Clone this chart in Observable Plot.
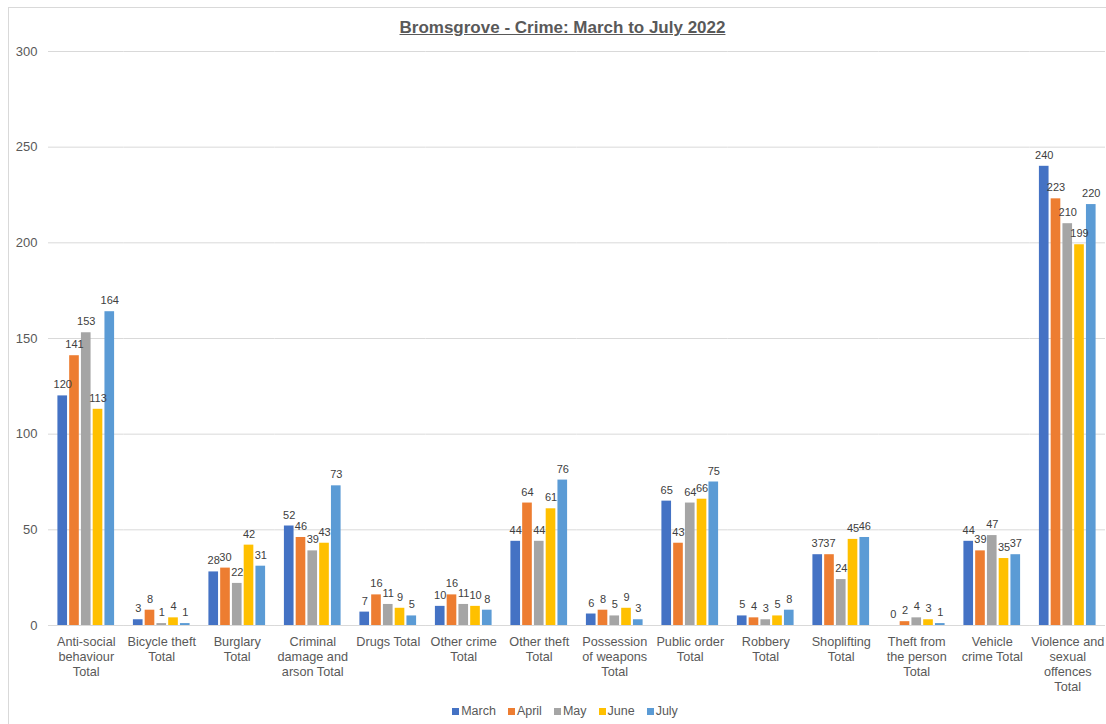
<!DOCTYPE html>
<html>
<head>
<meta charset="utf-8">
<script src="https://cdn.jsdelivr.net/npm/d3@7"></script>
<script src="https://cdn.jsdelivr.net/npm/@observablehq/plot@0.6"></script>
<style>
  html, body { margin: 0; padding: 0; background: #fff; }
  body { width: 1106px; height: 724px; position: relative; overflow: hidden;
         font-family: "Liberation Sans", Arial, sans-serif; }
  #frame { position: absolute; left: 8px; top: 7px; width: 1110px; height: 730px;
           border: 1px solid #d9d9d9; box-sizing: border-box; }
  #title { position: absolute; left: 0; top: 18px; width: 1125px; text-align: center;
           font-size: 17px; font-weight: bold; color: #595959; text-decoration: underline; }
  #chart { position: absolute; left: 0; top: 0; }
  #legend { position: absolute; left: 0; top: 704px; width: 1130px; text-align: center;
            font-size: 12.5px; color: #595959; white-space: nowrap; }
  #legend span.item { display: inline-block; margin: 0 6px; }
  #legend span.sw { display: inline-block; width: 7px; height: 7px; margin-right: 2px; }
</style>
</head>
<body>
<div id="frame"></div>
<div id="title">Bromsgrove - Crime: March to July 2022</div>
<div id="chart"></div>
<div id="legend"></div>
<script>
// Offence categories and their wrapped axis labels
const categories = [
  "Anti-social behaviour Total", "Bicycle theft Total", "Burglary Total",
  "Criminal damage and arson Total", "Drugs Total", "Other crime Total",
  "Other theft Total", "Possession of weapons Total", "Public order Total",
  "Robbery Total", "Shoplifting Total", "Theft from the person Total",
  "Vehicle crime Total", "Violence and sexual offences Total"
];
const categoryLabels = [
  "Anti-social\nbehaviour\nTotal", "Bicycle theft\nTotal", "Burglary\nTotal",
  "Criminal\ndamage and\narson Total", "Drugs Total", "Other crime\nTotal",
  "Other theft\nTotal", "Possession\nof weapons\nTotal", "Public order\nTotal",
  "Robbery\nTotal", "Shoplifting\nTotal", "Theft from\nthe person\nTotal",
  "Vehicle\ncrime Total", "Violence and\nsexual\noffences\nTotal"
];

const months = ["March", "April", "May", "June", "July"];
const monthColors = ["#4472C4", "#ED7D31", "#A5A5A5", "#FFC000", "#5B9BD5"];

// Monthly counts per category
const march = [120, 3, 28, 52, 7, 10, 44, 6, 65, 5, 37, 0, 44, 240];
const april = [141, 8, 30, 46, 16, 16, 64, 8, 43, 4, 37, 2, 39, 223];
const may   = [153, 1, 22, 39, 11, 11, 44, 5, 64, 3, 24, 4, 47, 210];
const june  = [113, 4, 42, 43, 9, 10, 61, 9, 66, 5, 45, 3, 35, 199];
const july  = [164, 1, 31, 73, 5, 8, 76, 3, 75, 8, 46, 1, 37, 220];

const yTicks = [0, 50, 100, 150, 200, 250, 300];

const series = [march, april, may, june, july];
const rows = [];
categories.forEach((c, i) => {
  months.forEach((m, j) => rows.push({category: c, month: m, value: series[j][i]}));
});
const labelOf = new Map(categories.map((c, i) => [c, categoryLabels[i]]));

const plot = Plot.plot({
  width: 1106,
  height: 700,
  marginTop: 51,
  marginBottom: 75,
  marginLeft: 48,
  marginRight: 1,
  style: {fontFamily: "'Liberation Sans', Arial, sans-serif", background: "transparent"},
  fx: {domain: categories, padding: 0, round: false, label: null},
  x: {domain: months, paddingInner: 0.18, paddingOuter: 0.8, round: false, axis: null},
  y: {domain: [0, 300], label: null},
  color: {domain: months, range: monthColors},
  marks: [
    Plot.gridY(yTicks, {stroke: "#d9d9d9", strokeOpacity: 1}),
    Plot.axisY(yTicks, {tickSize: 0, tickPadding: 11, fontSize: 13, fill: "#595959", label: null}),
    Plot.axisFx({anchor: "bottom", tickSize: 0, tickPadding: 10, fontSize: 12.7,
                 fill: "#595959", lineHeight: 1.18, label: null,
                 tickFormat: d => labelOf.get(d)}),
    Plot.barY(rows, {fx: "category", x: "month", y: "value", fill: "month"}),
    Plot.ruleY([0], {stroke: "#d9d9d9"}),
    Plot.text(rows, {fx: "category", x: "month", y: "value", text: d => String(d.value),
                     dy: -11, fontSize: 11, fill: "#404040"})
  ]
});
document.getElementById("chart").appendChild(plot);

// Legend below the plot
const legend = document.getElementById("legend");
months.forEach((m, j) => {
  const item = document.createElement("span");
  item.className = "item";
  const sw = document.createElement("span");
  sw.className = "sw";
  sw.style.background = monthColors[j];
  item.appendChild(sw);
  item.appendChild(document.createTextNode(m));
  legend.appendChild(item);
});
</script>
</body>
</html>
